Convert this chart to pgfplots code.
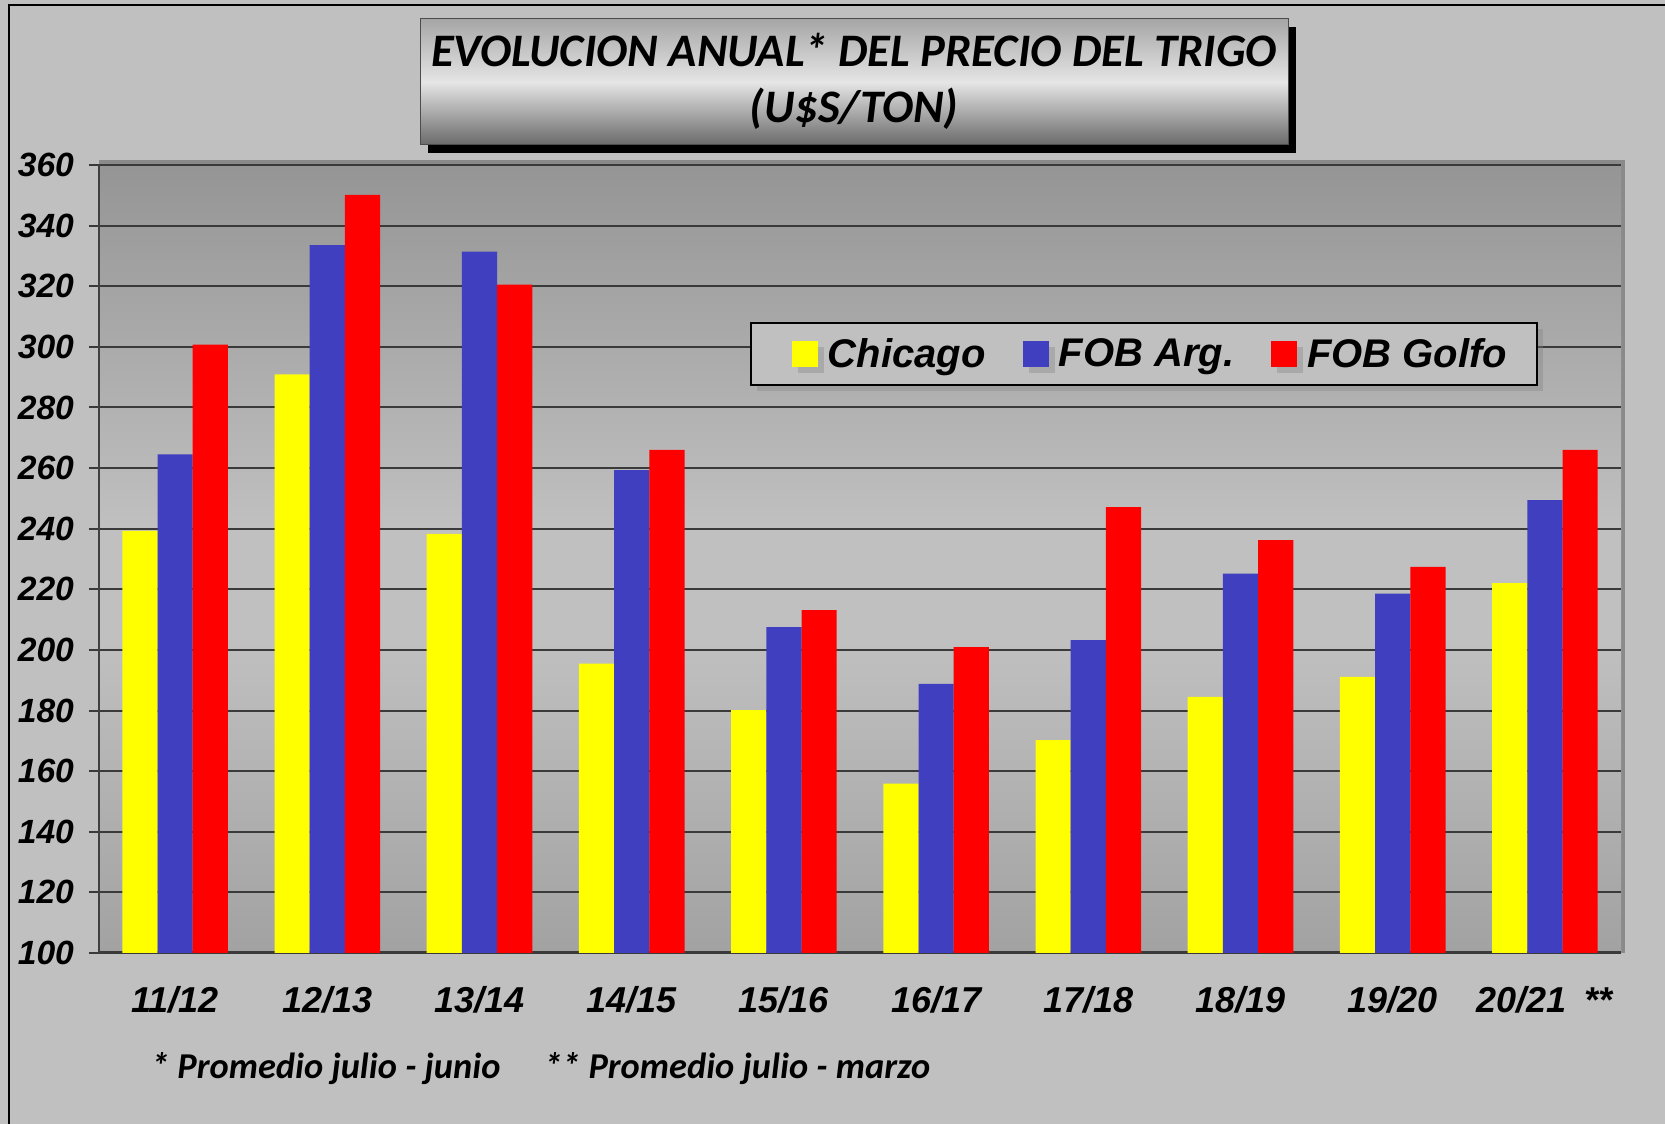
\documentclass[border=0pt]{standalone}
\usepackage{fontspec}
\setmainfont{Carlito}
\newfontfamily\arialf{Liberation Sans}
\usepackage{pgfplots}
\pgfplotsset{compat=1.18}
\usetikzlibrary{shadows}

\definecolor{bgc}{HTML}{C0C0C0}
\definecolor{cyel}{HTML}{FFFF00}
\definecolor{cblu}{HTML}{3F3FBF}
\definecolor{cred}{HTML}{FF0000}
\definecolor{pbot}{HTML}{A2A2A2}
\definecolor{pmid}{HTML}{C0C0C0}
\definecolor{ptop}{HTML}{959595}
\definecolor{gridc}{HTML}{3A3A3A}
\definecolor{edgec}{HTML}{8A8A8A}
\pgfdeclareverticalshading{plotbg}{100bp}{color(0bp)=(pbot); color(25bp)=(pbot); color(45bp)=(pmid); color(52bp)=(pmid); color(75bp)=(ptop); color(100bp)=(ptop)}

% wheat prices, US$/ton
\pgfplotstableread{
x chicago fobarg fobgolfo
0 239.3 264.5 300.7
1 290.9 333.6 350.1
2 238.3 331.4 320.5
3 195.5 259.3 266.0
4 180.1 207.5 213.1
5 155.9 188.8 200.9
6 170.2 203.2 247.1
7 184.5 225.2 236.2
8 191.1 218.6 227.4
9 222.0 249.4 266.0
}\prices

\begin{document}
\begin{tikzpicture}[x=0.5pt,y=0.5pt]
\fill[bgc] (0,0) rectangle (1665,1124);
\useasboundingbox (0,0) rectangle (1665,1124);
\draw[black, line width=1pt] (9,0) -- (9,1119) -- (1665,1119);

% title box
\fill[black] (428,971) rectangle (1296,1097);
\shade[top color=gray!70, bottom color=gray!70!black!90, middle color=gray!20] (420,979) rectangle (1288,1105);
\draw[gray!60!black, line width=0.5pt] (420,979) rectangle (1288,1105);
\node[font=\fontsize{23.3}{28}\selectfont\bfseries\itshape, align=center] at (854,1043) {EVOLUCION ANUAL* DEL PRECIO DEL TRIGO\\(U\$S/TON)};

% plot frame band
\fill[edgec] (99,959) rectangle (1625,964);
\fill[edgec] (1621,171) rectangle (1625,964);

\begin{axis}[
  at={(49.5pt,85.5pt)}, anchor=south west,
  scale only axis, width=761pt, height=394pt,
  xmin=-0.5, xmax=9.5, ymin=100, ymax=360,
  axis background/.style={shading=plotbg},
  ybar=0pt, bar width=17.6pt,
  axis x line*=bottom, axis y line*=left,
  x axis line style={gridc, line width=1.5pt},
  y axis line style={gray!50!black, line width=1pt},
  xtick={0,...,9},
  xticklabels={11/12,12/13,13/14,14/15,15/16,16/17,17/18,18/19,19/20,{20/21\enskip**}},
  major x tick style={draw=none},
  extra x ticks={-0.5,0.5,...,9.5}, extra x tick labels={},
  extra x tick style={major tick length=13pt, xtick align=center, grid=none, tick style={black, line width=0.5pt}},
  ytick={100,120,...,360},
  ytick align=outside, major tick length=5pt,
  ytick style={gridc, line width=1pt},
  ymajorgrids, major grid style={gridc, line width=1pt},
  /pgf/number format/assume math mode=true,
  xticklabel style={font=\arialf\fontsize{18}{18}\selectfont\bfseries\itshape, yshift=-8pt},
  yticklabel style={font=\arialf\fontsize{16.8}{17}\selectfont\bfseries\itshape, xshift=-4pt},
  legend columns=3,
  legend style={at={(0.4277,0.719)}, anchor=south west, fill=bgc, draw=black, line width=1pt,
    font=\arialf\fontsize{20}{20}\selectfont\bfseries\itshape,
    inner xsep=13pt, inner ysep=5.5pt,
    drop shadow={shadow xshift=3pt, shadow yshift=-3pt, opacity=0.35},
    nodes={inner xsep=2pt},
    /tikz/every even column/.append style={column sep=9pt}},
  sq/.style={legend image code/.code={\path (-7.5pt,0pt); \fill[##1, draw=none] (0pt,-6.5pt) rectangle (13pt,6.5pt); \path (16pt,0pt);}},
]
\addplot[fill=cyel, draw=none, sq] table[x=x, y=chicago] {\prices};
\addplot[fill=cblu, draw=none, sq] table[x=x, y=fobarg] {\prices};
\addplot[fill=cred, draw=none, sq] table[x=x, y=fobgolfo] {\prices};
\legend{Chicago, FOB Arg., FOB Golfo}
\end{axis}

\node[anchor=west, font=\fontsize{18.2}{18}\selectfont\bfseries\itshape] at (144,55) {* Promedio julio - junio};
\node[anchor=west, font=\fontsize{18.2}{18}\selectfont\bfseries\itshape] at (537,55) {** Promedio julio - marzo};
\end{tikzpicture}
\end{document}
